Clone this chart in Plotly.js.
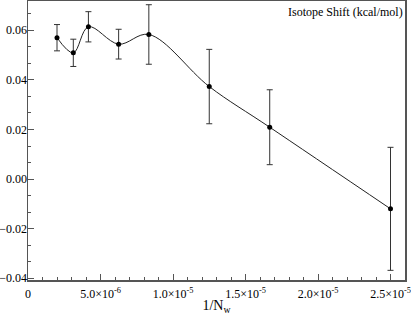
<!DOCTYPE html>
<html>
<head>
<meta charset="utf-8">
<script src="https://cdn.plot.ly/plotly-3.0.1.min.js"></script>
<style>
html, body { margin:0; padding:0; background:#fff; }
#graph { width:411px; height:315px; }
</style>
</head>
<body>
<div id="graph"></div>
<script>
// ---- data ----
const invNw = [2.0e-6, 3.125e-6, 4.167e-6, 6.25e-6, 8.333e-6, 1.25e-5, 1.667e-5, 2.5e-5];
const shift = [0.0570, 0.0509, 0.0614, 0.0544, 0.0583, 0.0373, 0.0209, -0.0120];
const shiftErr = [0.0053, 0.0055, 0.0061, 0.0060, 0.0120, 0.0150, 0.0151, 0.0248];

const xTickVals = [0, 5e-6, 1e-5, 1.5e-5, 2e-5, 2.5e-5];
const xTickText = ['0', '5.0×10<sup>-6</sup>', '1.0×10<sup>-5</sup>', '1.5×10<sup>-5</sup>', '2.0×10<sup>-5</sup>', '2.5×10<sup>-5</sup>'];

const serif = '"Liberation Serif", "DejaVu Serif", serif';
const axisColor = '#555';

const traces = [
    {x:invNw, y:shift, mode:'lines', line:{color:'#222', width:1, shape:'spline', smoothing:1}, hoverinfo:'skip'},
    {x:invNw, y:shift, mode:'markers', marker:{color:'#000', size:5},
     error_y:{type:'data', array:shiftErr, visible:true, color:'#333', thickness:1, width:3}}
];

const layout = {
    width:411, height:315,
    margin:{l:28, r:6, t:1, b:35},
    showlegend:false,
    paper_bgcolor:'#fff', plot_bgcolor:'#fff',
    font:{family:serif, size:12, color:'#000'},
    xaxis:{
        range:[0, 2.6e-5], showgrid:false, zeroline:false,
        showline:true, mirror:true, linecolor:axisColor, linewidth:1.5,
        ticks:'inside', ticklen:6, tickcolor:axisColor, tickwidth:1,
        tickvals:xTickVals, ticktext:xTickText, tickfont:{family:serif, size:12},
        ticklabelstandoff:2,
        minor:{dtick:1e-6, ticks:'inside', ticklen:3, tickcolor:axisColor, showgrid:false},
        title:{text:'1/N<sub>w</sub>', font:{family:serif, size:14}, standoff:9}
    },
    yaxis:{
        range:[-0.0407, 0.0718], showgrid:false, zeroline:false,
        showline:true, mirror:true, linecolor:axisColor, linewidth:1.5,
        ticks:'inside', ticklen:6, tickcolor:axisColor, tickwidth:1,
        tick0:0, dtick:0.02, tickformat:'.2f', tickfont:{family:serif, size:12},
        ticklabelstandoff:-3,
        minor:{tick0:0, dtick:0.02/3, ticks:'inside', ticklen:3, tickcolor:axisColor, showgrid:false}
    },
    annotations:[{
        text:'Isotope Shift (kcal/mol)', xref:'paper', yref:'paper', x:1, y:1,
        xanchor:'right', yanchor:'top', showarrow:false, font:{family:serif, size:12}, yshift:-2
    }]
};

Plotly.newPlot('graph', traces, layout, {displayModeBar:false, staticPlot:true});
</script>
</body>
</html>
